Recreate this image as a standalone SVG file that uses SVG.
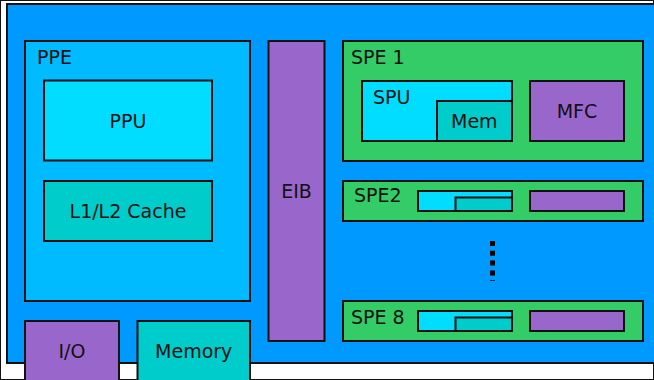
<svg xmlns="http://www.w3.org/2000/svg" width="654" height="380" viewBox="0 0 654 380">
  <style>
    rect { stroke: #111; stroke-width: 2; }
    text { font-family: "DejaVu Sans", sans-serif; font-size: 19px; fill: #111; }
    .mid { text-anchor: middle; }
    .chip { fill: #0099ff; }
    .ppe { fill: #00bbff; }
    .pu { fill: #00ddff; }
    .mem { fill: #00cccc; }
    .bus { fill: #9966cc; }
    .spe { fill: #33cc66; }
  </style>
  <rect width="654" height="380" fill="#ffffff" stroke="none"/>

  <!-- Cell chip outline -->
  <g id="chip">
    <rect class="chip" x="7" y="4" width="660" height="359"/>
  </g>

  <!-- Power Processor Element -->
  <g id="ppe">
    <rect class="ppe" x="25" y="41" width="225" height="260"/>
    <text x="37" y="64">PPE</text>
  </g>
  <g id="ppu">
    <rect class="pu" x="44" y="80.5" width="168" height="80"/>
    <text class="mid" x="128" y="127.5">PPU</text>
  </g>
  <g id="cache">
    <rect class="mem" x="44" y="181" width="168" height="60"/>
    <text class="mid" x="128" y="218">L1/L2 Cache</text>
  </g>

  <!-- Element Interconnect Bus -->
  <g id="eib">
    <rect class="bus" x="268.5" y="41" width="56" height="300"/>
    <text class="mid" x="296.5" y="198">EIB</text>
  </g>

  <!-- External interfaces -->
  <g id="io">
    <rect class="bus" x="25" y="321" width="94" height="62"/>
    <text class="mid" x="72" y="358">I/O</text>
  </g>
  <g id="memory">
    <rect class="mem" x="137.5" y="321" width="112.5" height="62"/>
    <text class="mid" x="193.7" y="358">Memory</text>
  </g>

  <!-- SPE 1 (expanded) -->
  <g id="spe1">
    <rect class="spe" x="343" y="41" width="300" height="120"/>
    <text x="351" y="64">SPE 1</text>
    <rect class="pu" x="362" y="81" width="150" height="60"/>
    <text x="373" y="104">SPU</text>
    <rect class="mem" x="437" y="101" width="75" height="40"/>
    <text class="mid" x="474.3" y="128">Mem</text>
    <rect class="bus" x="530" y="81" width="94" height="60"/>
    <text class="mid" x="577" y="118">MFC</text>
  </g>

  <!-- SPE 2 (compact) -->
  <g id="spe2">
    <rect class="spe" x="343" y="181" width="300" height="40"/>
    <text x="354" y="201.5">SPE2</text>
    <rect class="pu" x="418" y="191" width="94" height="20"/>
    <rect class="mem" x="455.5" y="197.5" width="56.5" height="13.5"/>
    <rect class="bus" x="530" y="191" width="94" height="20"/>
  </g>

  <!-- SPE 8 (compact) -->
  <g id="spe8">
    <rect class="spe" x="343" y="301" width="300" height="40"/>
    <text x="351" y="323.5">SPE 8</text>
    <rect class="pu" x="418" y="311" width="94" height="20"/>
    <rect class="mem" x="455.5" y="317.5" width="56.5" height="13.5"/>
    <rect class="bus" x="530" y="311" width="94" height="20"/>
  </g>

  <!-- Continuation marker between SPEs -->
  <g id="connectors">
    <line x1="492.5" y1="241" x2="492.5" y2="281" stroke="#000" stroke-width="5" stroke-dasharray="5 4.8"/>
  </g>
</svg>
